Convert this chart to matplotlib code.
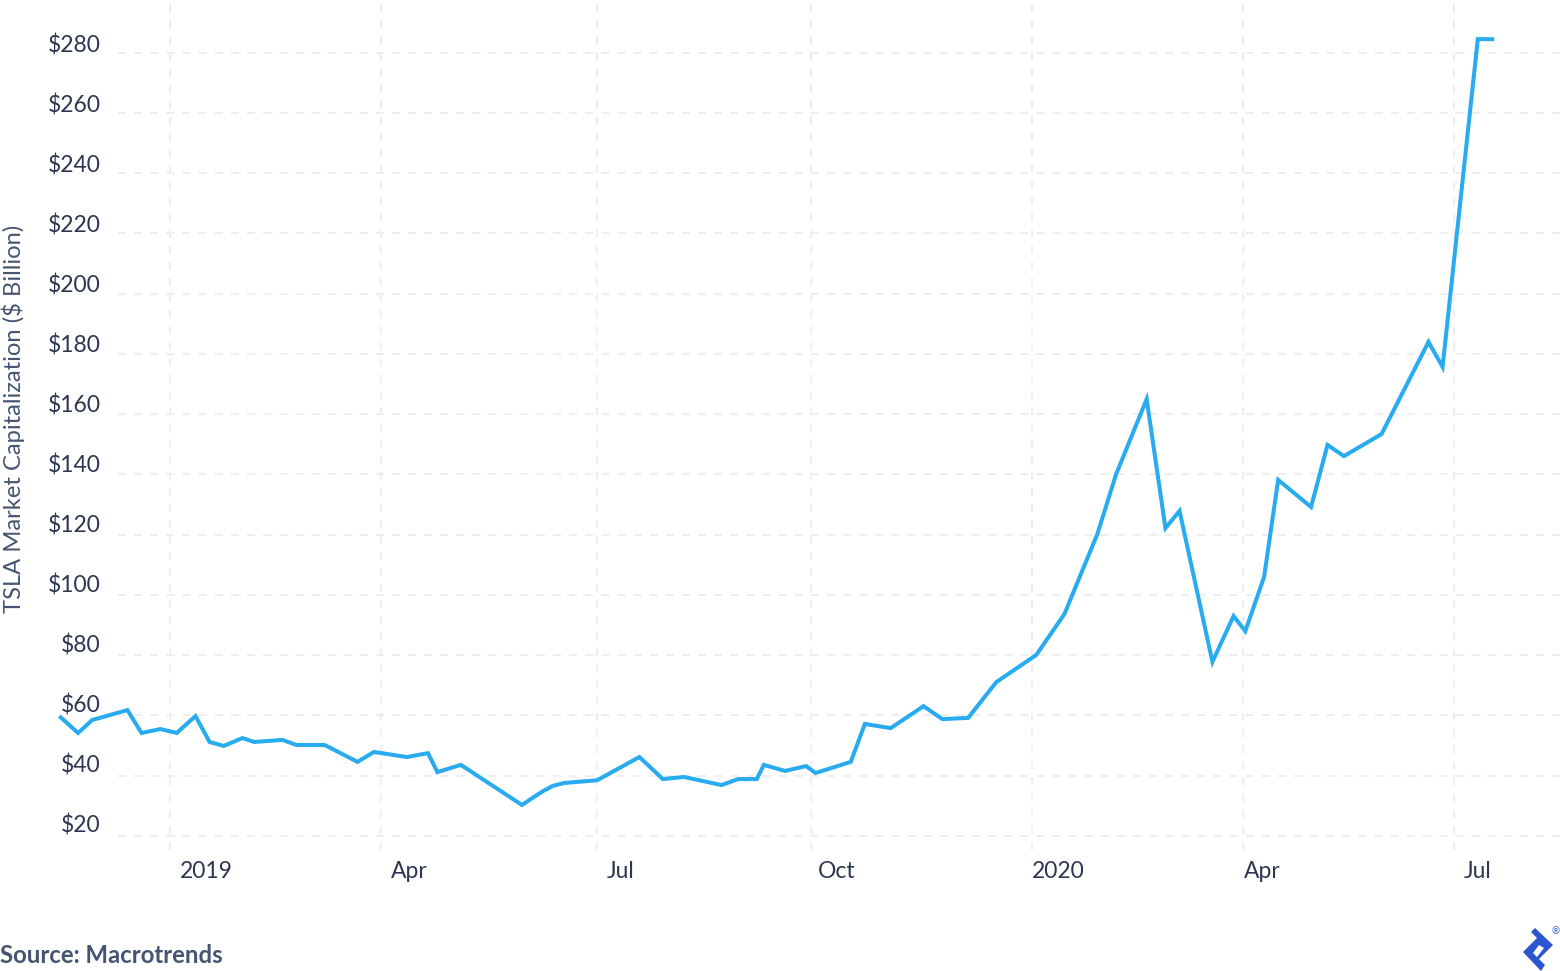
import numpy as np
import pandas as pd
import matplotlib
matplotlib.use('Agg')
import matplotlib.pyplot as plt
from matplotlib.patches import PathPatch
from matplotlib.path import Path
from matplotlib.transforms import Affine2D, ScaledTranslation

plt.rcParams['font.family'] = ['Lato', 'DejaVu Sans']
plt.rcParams['lines.scale_dashes'] = False

# %%
dates = ['2018-11-15', '2018-11-23', '2018-11-29', '2018-12-14', '2018-12-20', '2018-12-28',
         '2019-01-04', '2019-01-12', '2019-01-18', '2019-01-24', '2019-02-01', '2019-02-06',
         '2019-02-18', '2019-02-24', '2019-03-08', '2019-03-22', '2019-03-29', '2019-04-12',
         '2019-04-21', '2019-04-25', '2019-05-05', '2019-05-31', '2019-06-05', '2019-06-09',
         '2019-06-13', '2019-06-18', '2019-07-02', '2019-07-20', '2019-07-30', '2019-08-08',
         '2019-08-24', '2019-08-31', '2019-09-08', '2019-09-11', '2019-09-20', '2019-09-29',
         '2019-10-03', '2019-10-18', '2019-10-24', '2019-11-04', '2019-11-18', '2019-11-26',
         '2019-12-07', '2019-12-19', '2020-01-05', '2020-01-17', '2020-01-31', '2020-02-08',
         '2020-02-21', '2020-02-29', '2020-03-06', '2020-03-20', '2020-03-29', '2020-04-03',
         '2020-04-11', '2020-04-17', '2020-05-01', '2020-05-08', '2020-05-15', '2020-05-31',
         '2020-06-20', '2020-06-26', '2020-07-11', '2020-07-18']
market_cap = [59.8, 54.2, 58.5, 61.8, 54.2, 55.5,
              54.2, 59.8, 51.2, 49.9, 52.5, 51.2,
              51.9, 50.2, 50.2, 44.6, 47.9, 46.2,
              47.5, 41.2, 43.6, 30.3, 32.9, 34.9,
              36.6, 37.6, 38.5, 46.2, 38.9, 39.6,
              36.9, 38.9, 38.9, 43.6, 41.6, 43.2,
              40.9, 44.6, 57.2, 55.8, 63.1, 58.8,
              59.2, 71.1, 80.1, 93.7, 120.2, 140.1,
              165.0, 122.2, 127.9, 77.8, 93.0, 88.0,
              106.0, 138.2, 129.2, 149.8, 146.1, 153.4,
              184.0, 175.7, 284.5, 284.5]

x_tick_dates = ['2019-01-01', '2019-04-01', '2019-07-02', '2019-10-01',
                '2020-01-03', '2020-04-02', '2020-07-01']
x_tick_labels = ['2019', 'Apr', 'Jul', 'Oct', '2020', 'Apr', 'Jul']
y_ticks = np.arange(20, 281, 20)

blue = '#29abf0'
grid_col = '#eeeeee'
text_col = '#2c3650'
muted = '#455571'

# %%
W, H = 1560, 971
fig = plt.figure(figsize=(W / 100, H / 100), dpi=100)
fig.patch.set_facecolor('white')
ax = fig.add_axes([118 / W, 1 - 850 / H, (W - 118) / W, 850 / H])

x = pd.to_datetime(dates)
ax.plot(x, market_cap, color=blue, lw=2.9, clip_on=False, zorder=3,
        solid_joinstyle='miter', solid_capstyle='butt')

ax.set_xlim(pd.Timestamp('2018-12-10'), pd.Timestamp('2020-08-15'))
ax.set_ylim(15.35, 297.5)

ax.set_xticks(pd.to_datetime(x_tick_dates))
ax.set_xticklabels(x_tick_labels)
ax.set_yticks(y_ticks)
ax.set_yticklabels([f'${v}' for v in y_ticks])
ax.tick_params(length=0, labelsize=16.5, labelcolor=text_col)
ax.tick_params(axis='y', pad=12.7)
ax.tick_params(axis='x', pad=7.8)

# labels don't sit on their gridlines, offsets in pixels
label_dx = [10, 10, 10, 7, 0, 1, 9]
for lab, dx in zip(ax.get_xticklabels(), label_dx):
    lab.set_ha('left')
    lab.set_transform(lab.get_transform() + ScaledTranslation(dx / 100, 0, fig.dpi_scale_trans))
# y labels are spaced a bit tighter than the gridlines
for lab, v in zip(ax.get_yticklabels(), y_ticks):
    dy = -4 + 3 * (280 - v) / 260
    lab.set_va('bottom')
    lab.set_transform(lab.get_transform() + ScaledTranslation(0, dy / 100, fig.dpi_scale_trans))

ax.grid(True, color=grid_col, lw=1.5, ls=(0, (5.8, 5.8)))
ax.set_axisbelow(True)
for s in ax.spines:
    ax.spines[s].set_visible(False)

fig.text(13 / W, 1 - 419 / H, 'TSLA Market Capitalization ($ Billion)', rotation=90,
         ha='center', va='center', fontsize=17.1, color=muted)
fig.text(0, 1 - 955 / H, 'Source: Macrotrends', ha='left', va='center',
         fontsize=17.2, color=muted, fontweight='bold')

# %%
# logo, traced in pixels from the top left corner
outer = [(1531, 932), (1535, 928), (1553, 945), (1539, 959), (1545, 965), (1541, 971),
         (1523, 952), (1537, 938), (1531, 932)]
inner = [(1533, 953), (1537, 957), (1544, 948), (1539, 945), (1533, 953)]
verts = outer + inner
codes = ([Path.MOVETO] + [Path.LINETO] * (len(outer) - 2) + [Path.CLOSEPOLY]
         + [Path.MOVETO] + [Path.LINETO] * (len(inner) - 2) + [Path.CLOSEPOLY])
to_px = Affine2D().scale(1, -1).translate(0, H)
fig.add_artist(PathPatch(Path(verts, codes), transform=to_px, fc='#2b56cf', ec='none'))
fig.text(1556 / W, 1 - 932 / H, '®', ha='center', va='center', fontsize=7, color='#2b56cf')

fig.savefig('out.png', dpi=100)
